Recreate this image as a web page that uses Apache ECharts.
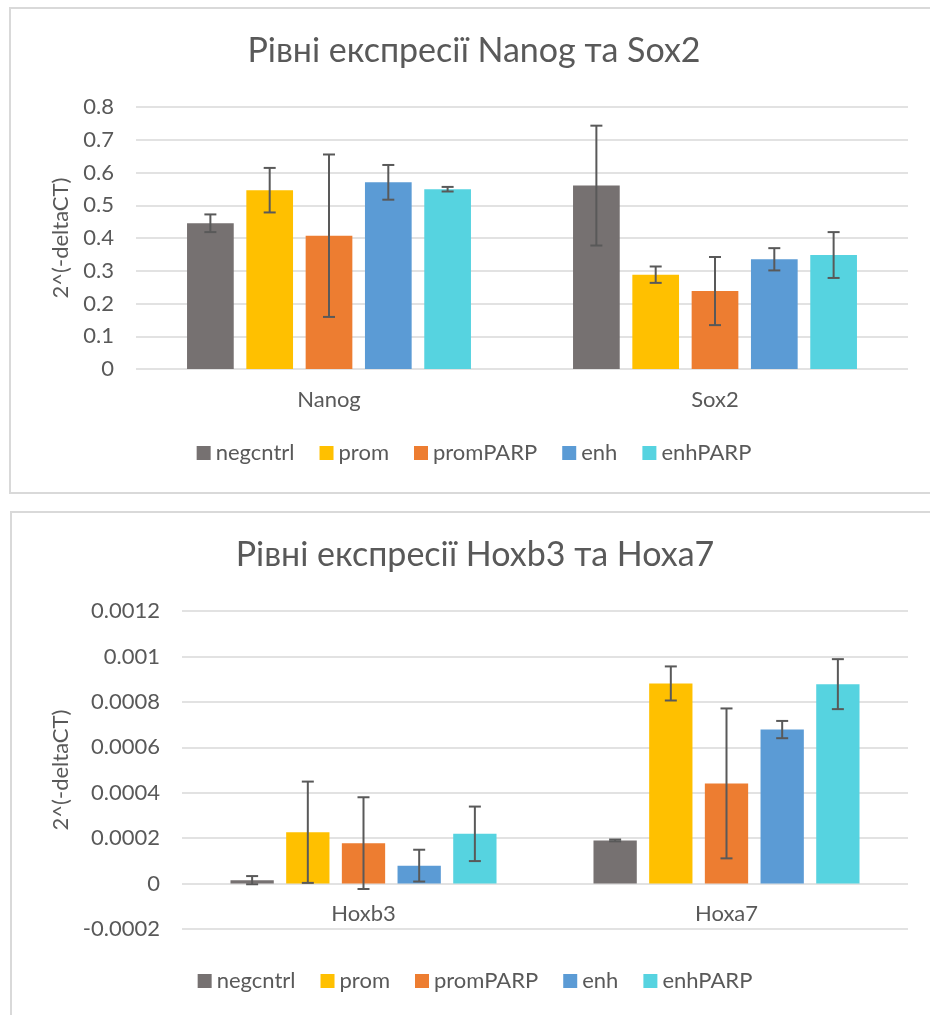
<!DOCTYPE html>
<html lang="uk">
<head>
<meta charset="UTF-8">
<title>Рівні експресії</title>
<script src="https://cdn.jsdelivr.net/npm/echarts@6/dist/echarts.min.js"></script>
<style>
	html, body { margin:0; padding:0; background:#fff; overflow:hidden; width:930px; height:1015px; }
	.panel { position:absolute; box-sizing:border-box; border:2px solid #d9d9d9; width:930px; }
	#panel1 { left:9px; top:7px; height:487px; }
	#panel2 { left:10px; top:511px; height:530px; }
	.panel > div { width:100%; height:100%; }
</style>
</head>
<body>
<div class="panel" id="panel1"><div id="chart1"></div></div>
<div class="panel" id="panel2"><div id="chart2"></div></div>
<script>
/* 공통 */
var seriesNames = ['negcntrl', 'prom', 'promPARP', 'enh', 'enhPARP'];
var seriesColors = ['#767171', '#FFC000', '#ED7D31', '#5B9BD5', '#56D3E0'];

/* Nanog / Sox2 */
var topCategories = ['Nanog', 'Sox2'];
var topNegcntrl = [0.445, 0.560];
var topProm = [0.546, 0.288];
var topPromPARP = [0.407, 0.238];
var topEnh = [0.570, 0.335];
var topEnhPARP = [0.549, 0.348];
var topNegcntrlErr = [0.027, 0.183];
var topPromErr = [0.068, 0.025];
var topPromPARPErr = [0.248, 0.104];
var topEnhErr = [0.053, 0.034];
var topEnhPARPErr = [0.007, 0.070];
var topTicks = { min: 0, max: 0.8, interval: 0.1 };

/* Hoxb3 / Hoxa7 */
var botCategories = ['Hoxb3', 'Hoxa7'];
var botNegcntrl = [0.000015, 0.000190];
var botProm = [0.000226, 0.000881];
var botPromPARP = [0.000178, 0.000441];
var botEnh = [0.000079, 0.000678];
var botEnhPARP = [0.000219, 0.000878];
var botNegcntrlErr = [0.000018, 0.000004];
var botPromErr = [0.000223, 0.000075];
var botPromPARPErr = [0.000202, 0.000330];
var botEnhErr = [0.000070, 0.000038];
var botEnhPARPErr = [0.000120, 0.000110];
var botTicks = { min: -0.0002, max: 0.0012, interval: 0.0002 };

var FONT = 'Lato, "Open Sans", sans-serif';
var TXT = '#595959';

function makeOption(cfg) {
	var series = [];
	var n = seriesNames.length;
	var step = cfg.barWidth * (1 + cfg.barGap);
	cfg.values.forEach(function (vals, i) {
		series.push({
			name: seriesNames[i],
			type: 'bar',
			barWidth: cfg.barWidth,
			barGap: (cfg.barGap * 100) + '%',
			itemStyle: { color: seriesColors[i] },
			data: vals
		});
	});
	// 오차막대
	cfg.values.forEach(function (vals, i) {
		var offset = (i - (n - 1) / 2) * step;
		series.push({
			name: seriesNames[i] + ' error',
			type: 'custom',
			z: 10,
			renderItem: function (params, api) {
				var cx = api.coord([api.value(0), 0])[0] + offset;
				var yHi = api.coord([api.value(0), api.value(2)])[1];
				var yLo = api.coord([api.value(0), api.value(1)])[1];
				var st = { stroke: '#595959', lineWidth: 2 };
				return {
					type: 'group',
					children: [
						{ type: 'line', shape: { x1: cx, y1: yHi, x2: cx, y2: yLo }, style: st },
						{ type: 'line', shape: { x1: cx - 6, y1: yHi, x2: cx + 6, y2: yHi }, style: st },
						{ type: 'line', shape: { x1: cx - 6, y1: yLo, x2: cx + 6, y2: yLo }, style: st }
					]
				};
			},
			encode: { x: 0, y: [1, 2] },
			data: vals.map(function (v, k) {
				return [k, v - cfg.errors[i][k], v + cfg.errors[i][k]];
			})
		});
	});

	return {
		animation: false,
		textStyle: { fontFamily: FONT },
		title: {
			text: cfg.title,
			left: 'center',
			top: 25,
			padding: 0,
			textStyle: { color: TXT, fontFamily: FONT, fontSize: 34, fontWeight: 'normal' }
		},
		legend: {
			data: seriesNames,
			left: 'center',
			top: cfg.legendTop,
			padding: 0,
			icon: 'rect',
			itemWidth: 14,
			itemHeight: 14,
			itemGap: 25,
			textStyle: { color: TXT, fontFamily: FONT, fontSize: 22 }
		},
		grid: {
			left: cfg.gridLeft,
			top: 98,
			width: cfg.gridWidth,
			height: cfg.gridHeight
		},
		xAxis: {
			type: 'category',
			data: cfg.categories,
			axisLine: { show: false },
			axisTick: { show: false },
			// 라벨은 0 기준선 바로 아래
			axisLabel: { color: TXT, fontFamily: FONT, fontSize: 22, margin: cfg.labelMargin }
		},
		yAxis: {
			type: 'value',
			min: cfg.ticks.min,
			max: cfg.ticks.max,
			interval: cfg.ticks.interval,
			name: '2^(-deltaCT)',
			nameLocation: 'middle',
			nameGap: cfg.nameGap,
			nameTextStyle: { color: TXT, fontFamily: FONT, fontSize: 22 },
			axisLabel: {
				color: TXT, fontFamily: FONT, fontSize: 22, margin: 22,
				formatter: function (v) { return String(Number(v.toFixed(6))); }
			},
			splitLine: { lineStyle: { color: '#d9d9d9', width: 1.5 } }
		},
		series: series
	};
}

var chart1 = echarts.init(document.getElementById('chart1'));
chart1.setOption(makeOption({
	title: 'Рівні експресії Nanog та Sox2',
	categories: topCategories,
	values: [topNegcntrl, topProm, topPromPARP, topEnh, topEnhPARP],
	errors: [topNegcntrlErr, topPromErr, topPromPARPErr, topEnhErr, topEnhPARPErr],
	ticks: topTicks,
	barWidth: 46.7,
	barGap: 0.27,
	gridLeft: 125,
	gridWidth: 772,
	gridHeight: 262,
	nameGap: 64,
	labelMargin: 20,
	legendTop: 433
}));

var chart2 = echarts.init(document.getElementById('chart2'));
chart2.setOption(makeOption({
	title: 'Рівні експресії Hoxb3 та Hoxa7',
	categories: botCategories,
	values: [botNegcntrl, botProm, botPromPARP, botEnh, botEnhPARP],
	errors: [botNegcntrlErr, botPromErr, botPromPARPErr, botEnhErr, botEnhPARPErr],
	ticks: botTicks,
	barWidth: 43.3,
	barGap: 0.286,
	gridLeft: 170,
	gridWidth: 726,
	gridHeight: 318,
	nameGap: 108,
	labelMargin: -26,
	legendTop: 457
}));
</script>
</body>
</html>
